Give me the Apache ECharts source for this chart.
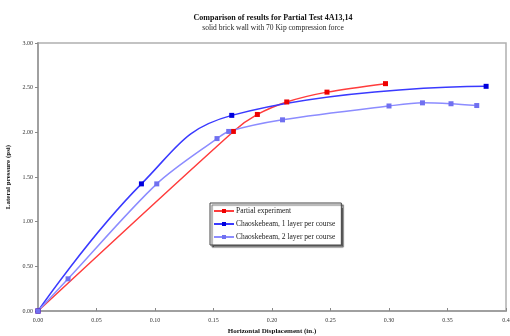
<!DOCTYPE html>
<html>
<head>
<meta charset="utf-8">
<script src="https://cdn.jsdelivr.net/npm/echarts@6/dist/echarts.min.js"></script>
<style>
  html, body { margin: 0; padding: 0; background: #fff; }
  #chart { width: 510px; height: 336px; }
</style>
</head>
<body>
<div id="chart"></div>
<script>
const seriesNames = [
  "Partial experiment",
  "Chaoskebeam, 1 layer per course",
  "Chaoskebeam, 2 layer per course",
];

// [displacement (in.), lateral pressure (psi)]
const experiment = [
  [0, 0], [0.167, 2.01], [0.1875, 2.2], [0.2126, 2.34], [0.247, 2.45], [0.297, 2.545],
];
const oneLayer = [
  [0, 0], [0.0884, 1.423], [0.1656, 2.19], [0.383, 2.515],
];
const twoLayer = [
  [0, 0], [0.0257, 0.36], [0.1015, 1.423], [0.153, 1.93], [0.163, 2.01],
  [0.209, 2.14], [0.300, 2.295], [0.3286, 2.33], [0.353, 2.32], [0.375, 2.30],
];

const xTickLabels = ["0.00", "0.05", "0.10", "0.15", "0.20", "0.25", "0.30", "0.35", "0.4"];
const yTickLabels = ["0.00", "0.50", "1.00", "1.50", "2.00", "2.50", "3.00"];

const font = "Liberation Serif";
const axisGray = "#a0a0a0";

function lineSeries(name, data, lineColor, markColor, smooth) {
  return {
    name: name,
    type: "line",
    data: data,
    smooth: smooth,
    symbol: "rect",
    symbolSize: 5,
    lineStyle: { color: lineColor, width: 1.5 },
    itemStyle: { color: markColor },
  };
}

const chart = echarts.init(document.getElementById("chart"));
chart.setOption({
  animation: false,
  backgroundColor: "#fff",
  title: {
    text: "Comparison of results for Partial Test 4A13,14",
    subtext: "solid brick wall with 70 Kip compression force",
    left: 268,
    textAlign: "center",
    top: 9,
    itemGap: 2,
    textStyle: { fontFamily: font, fontSize: 8, fontWeight: "bold", color: "#111" },
    subtextStyle: { fontFamily: font, fontSize: 7.5, color: "#222" },
  },
  grid: {
    left: 38, right: 4, top: 43, bottom: 25,
    outerBoundsMode: "none",
    containLabel: false,
    show: true,
    borderColor: "#b0b0b0",
    borderWidth: 1.5,
  },
  legend: {
    orient: "vertical",
    left: 210,
    top: 203,
    padding: [4, 6, 4, 3],
    itemGap: 5,
    itemWidth: 20,
    itemHeight: 5,
    backgroundColor: "#fff",
    borderColor: "#444",
    borderWidth: 1,
    shadowColor: "rgba(0,0,0,0.6)",
    shadowOffsetX: 2,
    shadowOffsetY: 2,
    shadowBlur: 1,
    data: seriesNames,
    textStyle: { fontFamily: font, fontSize: 7.5, color: "#222", padding: [0, 0, 0, -3] },
  },
  xAxis: {
    type: "value",
    min: 0,
    max: 0.4,
    interval: 0.05,
    name: "Horizontal Displacement (in.)",
    nameLocation: "middle",
    nameGap: 16,
    nameTextStyle: { fontFamily: font, fontSize: 7, fontWeight: "bold", color: "#111" },
    axisLine: { lineStyle: { color: axisGray, width: 2 } },
    axisTick: { length: 3, inside: true, lineStyle: { color: "#888" } },
    splitLine: { show: false },
    axisLabel: {
      fontFamily: font, fontSize: 6, color: "#333", margin: 6,
      formatter: (v) => xTickLabels[Math.round(v / 0.05)],
    },
  },
  yAxis: {
    type: "value",
    min: 0,
    max: 3,
    interval: 0.5,
    name: "Lateral pressure (psi)",
    nameLocation: "middle",
    nameGap: 26,
    nameTextStyle: { fontFamily: font, fontSize: 7, fontWeight: "bold", color: "#111" },
    axisLine: { show: true, lineStyle: { color: axisGray, width: 2 } },
    axisTick: { show: true, length: 3, lineStyle: { color: "#888" } },
    splitLine: { show: false },
    axisLabel: {
      fontFamily: font, fontSize: 6, color: "#333", margin: 5,
      formatter: (v) => yTickLabels[Math.round(v / 0.5)],
    },
  },
  series: [
    lineSeries(seriesNames[0], experiment, "#ff3c3c", "#ee0000", 0.3),
    lineSeries(seriesNames[1], oneLayer, "#3a3aff", "#0000dd", 0.45),
    lineSeries(seriesNames[2], twoLayer, "#8c8cff", "#7070f0", 0.3),
  ],
});
</script>
</body>
</html>
